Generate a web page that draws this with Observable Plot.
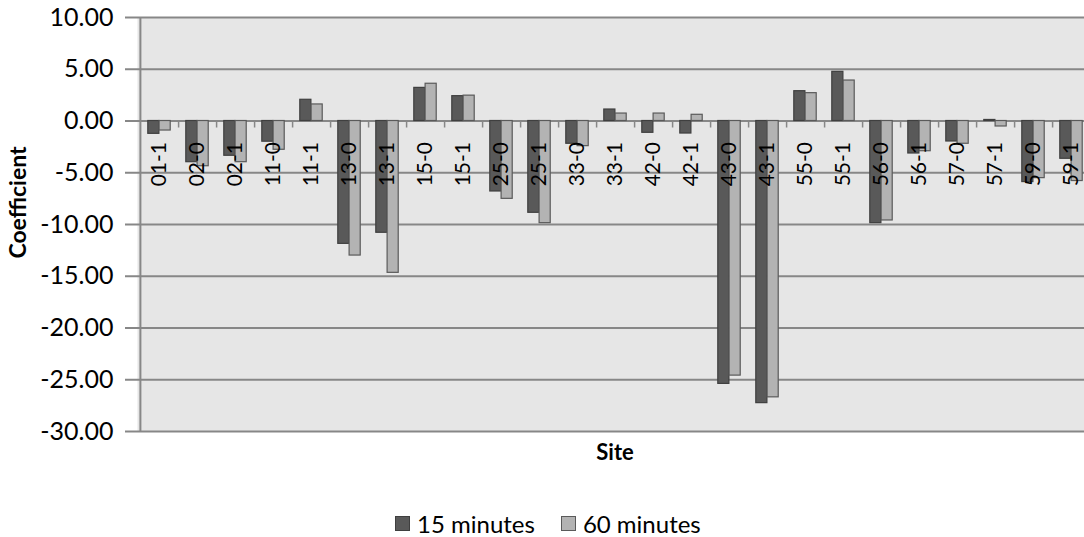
<!DOCTYPE html>
<html>
<head>
<meta charset="utf-8">
<script src="https://cdn.jsdelivr.net/npm/d3@7"></script>
<script src="https://cdn.jsdelivr.net/npm/@observablehq/plot@0.6"></script>
<style>
  body { margin: 0; background: #fff; font-family: Lato, "Open Sans", sans-serif; }
  #wrap { position: relative; width: 1084px; height: 537px; overflow: hidden; background: #fff; }
  #chart { position: absolute; left: 0; top: 0; }
  #legend { position: absolute; left: 395px; top: 509px; display: flex; align-items: center; font-size: 24px; color: #000; white-space: nowrap; }
  .item { display: flex; align-items: center; margin-right: 26px; }
  .sw { width: 15px; height: 15px; margin-right: 7px; box-sizing: border-box; }
</style>
</head>
<body>
<div id="wrap">
  <div id="chart"></div>
  <div id="legend"></div>
</div>
<script>
const sites = ["01-1","02-0","02-1","11-0","11-1","13-0","13-1","15-0","15-1","25-0","25-1","33-0","33-1","42-0","42-1","43-0","43-1","55-0","55-1","56-0","56-1","57-0","57-1","59-0","59-1"];
const min15 = [-1.24,-3.98,-3.36,-2.0,2.05,-11.87,-10.8,3.2,2.4,-6.81,-8.87,-2.2,1.11,-1.14,-1.21,-25.4,-27.26,2.88,4.75,-9.87,-3.14,-1.98,0.1,-5.9,-3.65];
const min60 = [-0.92,-4.37,-3.98,-2.78,1.6,-13.0,-14.67,3.6,2.45,-7.52,-9.87,-2.43,0.72,0.72,0.6,-24.6,-26.7,2.69,3.91,-9.61,-2.92,-2.2,-0.53,-5.52,-5.8];
const seriesNames = ["15 minutes", "60 minutes"];
const seriesFill = ["#595959", "#b3b3b3"];
const seriesStroke = ["#3f3f3f", "#5a5a5a"];
const yTicks = [-30, -25, -20, -15, -10, -5, 0, 5, 10];
const xTitle = "Site";
const yTitle = "Coefficient";

const d15 = sites.map((s, i) => ({site: s, value: min15[i]}));
const d60 = sites.map((s, i) => ({site: s, value: min60[i]}));

const W = 1092, H = 470, ML = 137, MT = 17, MB = 39;
const bw = (W - ML) / sites.length;
const barW = bw * 0.296;
const pad = (bw - 2 * barW) / 2;
const gridColor = "#878787";

const chart = Plot.plot({
  width: W, height: H,
  marginLeft: ML, marginRight: 0, marginTop: MT, marginBottom: MB,
  style: {fontFamily: "Lato, 'Open Sans', sans-serif", maxWidth: "none", background: "transparent", overflow: "visible"},
  x: {domain: sites, padding: 0, axis: null},
  y: {domain: [-30, 10], axis: null},
  marks: [
    Plot.frame({fill: "#e6e6e6", stroke: null}),
    Plot.ruleY(yTicks, {stroke: gridColor, strokeWidth: 2, insetLeft: -12}),
    Plot.ruleX([sites[0]], {x: d => d, dx: -bw / 2, stroke: gridColor, strokeWidth: 2}),
    Plot.ruleX(sites, {x: d => d, y1: 0, y2: 0, insetBottom: -7, dx: bw / 2, stroke: gridColor, strokeWidth: 1.5}),
    Plot.barY(d15, {x: "site", y: "value", fill: seriesFill[0], stroke: seriesStroke[0], strokeWidth: 1.2, insetLeft: pad, insetRight: pad + barW}),
    Plot.barY(d60, {x: "site", y: "value", fill: seriesFill[1], stroke: seriesStroke[1], strokeWidth: 1.2, insetLeft: pad + barW, insetRight: pad}),
    Plot.text(sites, {x: d => d, y: 0, text: d => d, rotate: -90, textAnchor: "end", lineAnchor: "middle", dy: 21, fontSize: 21, fill: "#000"}),
    Plot.text(yTicks, {frameAnchor: "left", y: d => d, text: d => d.toFixed(2), textAnchor: "end", lineAnchor: "middle", dx: -24, fontSize: 25, fill: "#000"}),
    Plot.text([xTitle], {frameAnchor: "bottom", text: d => d, textAnchor: "middle", lineAnchor: "middle", dy: 21, fontSize: 22, fontWeight: "bold", fill: "#000"}),
    Plot.text([yTitle], {frameAnchor: "left", text: d => d, textAnchor: "middle", lineAnchor: "middle", dx: -119, dy: -22, rotate: -90, fontSize: 23, fontWeight: "bold", fill: "#000"})
  ]
});
document.getElementById("chart").appendChild(chart);

const legend = document.getElementById("legend");
seriesNames.forEach((name, i) => {
  const item = document.createElement("div");
  item.className = "item";
  const sw = document.createElement("span");
  sw.className = "sw";
  sw.style.background = seriesFill[i];
  sw.style.border = "1px solid " + seriesStroke[i];
  const label = document.createElement("span");
  label.textContent = name;
  item.appendChild(sw);
  item.appendChild(label);
  legend.appendChild(item);
});
</script>
</body>
</html>
